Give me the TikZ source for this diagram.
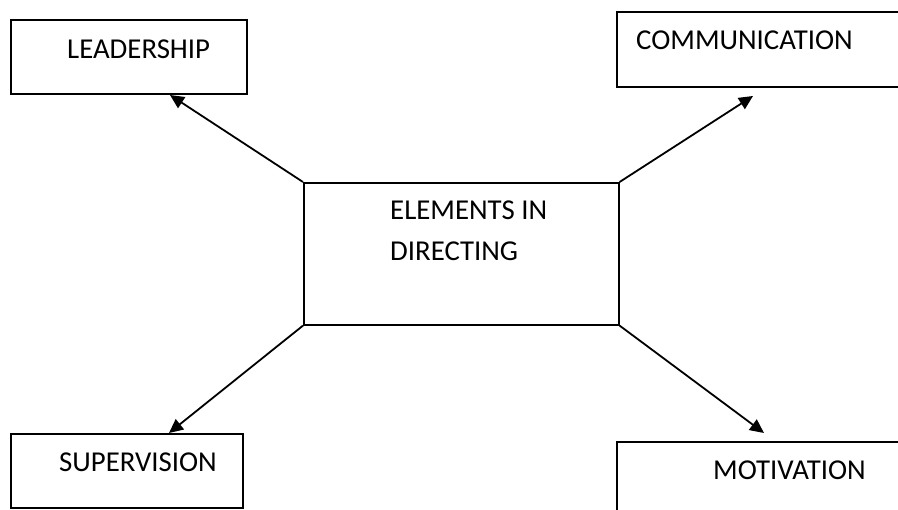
\documentclass[tikz,border=0pt]{standalone}
\usepackage{fontspec}
\setmainfont{Carlito}
\usetikzlibrary{arrows.meta}
\begin{document}
\begin{tikzpicture}[x=1pt,y=-1pt,
  box/.style={draw=black,line width=1.6pt,fill=white},
  lbl/.style={anchor=base west,inner sep=0pt,font=\fontsize{28.8}{34}\selectfont},
  link/.style={line width=1.8pt,-{Triangle[length=14pt,width=13pt]},shorten >=0pt}]
\useasboundingbox (0,0) rectangle (898,510);
\clip (0,0) rectangle (898,510);
% outer boxes
\draw[box] (11,20) rectangle (247,94);
\node[coordinate] (leadBox) at (11,20) {};
\draw[box] (617,12) rectangle (910,87);
\draw[box] (11,434) rectangle (243,508);
\draw[box] (617,442) rectangle (910,530);
% centre box
\node[box,anchor=north west,minimum width=315pt,minimum height=142pt,inner sep=0pt] (ctr) at (303,182) {};
% labels
\node[lbl] (lead) at (67,59) {LEADERSHIP};
\node[lbl] (comm) at (636,50) {COMMUNICATION};
\node[lbl] (sup) at (59,472) {SUPERVISION};
\node[lbl] (mot) at (713,480) {MOTIVATION};
\node[lbl] (el1) at (390,220) {ELEMENTS IN};
\node[lbl] (el2) at (390,261) {DIRECTING};
% arrow tips on the outer boxes
\coordinate (leadTip) at (170,95);
\coordinate (commTip) at (753,96);
\coordinate (supTip) at (169,433);
\coordinate (motTip) at (764,433);
\draw[link] (ctr.north west) -- (leadTip);
\draw[link] (ctr.north east) -- (commTip);
\draw[link] (ctr.south west) -- (supTip);
\draw[link] (ctr.south east) -- (motTip);
\end{tikzpicture}
\end{document}
